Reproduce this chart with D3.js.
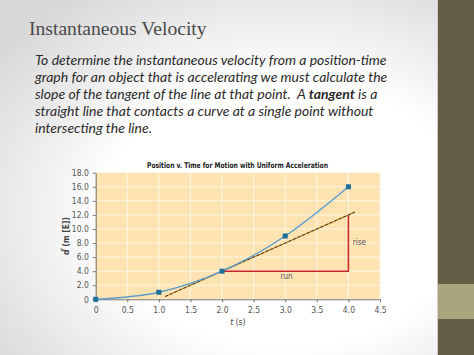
<!DOCTYPE html>
<html><head><meta charset="utf-8">
<script src="https://cdn.jsdelivr.net/npm/d3@7"></script>
<style>
html,body{margin:0;padding:0;background:#fff;}
svg{display:block;}
</style></head>
<body>
<svg id="c" width="474" height="355"></svg>
<script>
// Data
const times = [0, 1, 2, 3, 4];
const positions = [0, 1, 4, 9, 16];
const tangentT = [1.1, 4.1];
const tangentD = [0.4, 12.4];
const riseRunT = [2, 4, 4];
const riseRunD = [4, 4, 12];
const xTicks = [0, 0.5, 1, 1.5, 2, 2.5, 3, 3.5, 4, 4.5];
const yTicks = [0, 2, 4, 6, 8, 10, 12, 14, 16, 18];
const bodyLines = [
  [["To determine the instantaneous velocity from a position-time", false]],
  [["graph for an object that is accelerating we must calculate the", false]],
  [["slope of the tangent of the line at that point.\u00a0 A ", false], ["tangent", true], [" is a", false]],
  [["straight line that contacts a curve at a single point without", false]],
  [["intersecting the line.", false]]
];

const svg = d3.select("#c");
const defs = svg.append("defs");
const rg = defs.append("radialGradient").attr("id","bg").attr("cx","0.6").attr("cy","0.6").attr("r","0.75");
rg.append("stop").attr("offset","0.5").attr("stop-color","#ffffff");
rg.append("stop").attr("offset","1").attr("stop-color","#d8d8d8");
svg.append("rect").attr("width",474).attr("height",355).attr("fill","url(#bg)");

// right sidebar
svg.append("rect").attr("x",438).attr("y",0).attr("width",36).attr("height",355).attr("fill","#655c45");
svg.append("rect").attr("x",438).attr("y",284).attr("width",36).attr("height",35).attr("fill","#aaa57d");
svg.append("rect").attr("x",437).attr("y",0).attr("width",1).attr("height",355).attr("fill","#cfcfcf");

// title
svg.append("text").attr("x",29).attr("y",35)
  .attr("font-family","'Liberation Serif','DejaVu Serif',serif")
  .attr("font-size",19.6).attr("fill","#4a4a4a").text("Instantaneous Velocity");

// body text
const bodyY = [65, 82, 99, 116, 133];
bodyLines.forEach((parts, i) => {
  const t = svg.append("text").attr("x",35).attr("y",bodyY[i])
    .attr("font-family","Lato,'Open Sans',sans-serif").attr("font-style","italic")
    .attr("font-size",14).attr("fill","#2b2b2b");
  parts.forEach(p => {
    t.append("tspan").attr("font-weight", p[1] ? "bold" : "normal").text(p[0]);
  });
});

// chart
const x = d3.scaleLinear().domain([0, 4.5]).range([95.7, 380]);
const y = d3.scaleLinear().domain([0, 18]).range([299.3, 172.7]);

svg.append("rect").attr("x",x(0)).attr("y",y(18)).attr("width",x(4.5)-x(0)).attr("height",y(0)-y(18)).attr("fill","#fde3b2");

const g = svg.append("g");
g.selectAll("line.vg").data(xTicks.slice(1)).join("line")
  .attr("x1",d=>x(d)).attr("x2",d=>x(d)).attr("y1",y(0)).attr("y2",y(18))
  .attr("stroke","#fff6e4").attr("stroke-width",1);
g.selectAll("line.hg").data(yTicks.slice(1)).join("line")
  .attr("y1",d=>y(d)).attr("y2",d=>y(d)).attr("x1",x(0)).attr("x2",x(4.5))
  .attr("stroke","#fff6e4").attr("stroke-width",1);

const fmt = d => d === 0 ? "0" : d3.format(".1f")(d);
const tickFont = "'Liberation Sans Narrow','DejaVu Sans Condensed',Arial,sans-serif";

const xAxis = svg.append("g").attr("transform",`translate(0,${y(0)})`)
  .call(d3.axisBottom(x).tickValues(xTicks).tickFormat(fmt).tickSize(3).tickSizeOuter(0));
const yAxis = svg.append("g").attr("transform",`translate(${x(0)},0)`)
  .call(d3.axisLeft(y).tickValues(yTicks).tickFormat(fmt).tickSize(3).tickSizeOuter(0));
[xAxis, yAxis].forEach(a => {
  a.selectAll("path").attr("stroke","#555").attr("stroke-width",0.8);
  a.selectAll("line").attr("stroke","#555").attr("stroke-width",0.8);
  a.selectAll("text").attr("font-family",tickFont).attr("font-size",8.5).attr("fill","#555");
});
xAxis.selectAll("text").attr("dy","0.95em");
yAxis.selectAll("text").attr("dx","-0.1em");

// axis labels
svg.append("text").attr("x",(x(0)+x(4.5))/2).attr("y",325).attr("text-anchor","middle")
  .attr("font-family",tickFont).attr("font-size",8.5).attr("fill","#444")
  .html('<tspan font-style="italic">t</tspan> (s)');
svg.append("text").attr("transform",`translate(69,${(y(0)+y(18))/2}) rotate(-90)`).attr("text-anchor","middle")
  .attr("font-family",tickFont).attr("font-size",8.5).attr("fill","#444").attr("font-weight","bold")
  .html('<tspan font-style="italic">d⃗</tspan> (m [E])');

// chart title
svg.append("text").attr("x",147).attr("y",168)
  .attr("textLength",181).attr("lengthAdjust","spacingAndGlyphs")
  .attr("font-family",tickFont).attr("font-size",7.8).attr("font-weight","bold").attr("fill","#222")
  .text("Position v. Time for Motion with Uniform Acceleration");

// rise/run
const rr = riseRunT.map((t,i)=>[t, riseRunD[i]]);
svg.append("path").attr("d", d3.line().x(d=>x(d[0])).y(d=>y(d[1]))(rr))
  .attr("fill","none").attr("stroke","#c8262b").attr("stroke-width",1.5);
svg.append("text").attr("x",x(3.02)).attr("y",y(2.9)).attr("text-anchor","middle")
  .attr("font-family",tickFont).attr("font-size",8).attr("fill","#555").text("run");
svg.append("text").attr("x",x(4.07)).attr("y",y(7.7)).attr("text-anchor","start")
  .attr("font-family",tickFont).attr("font-size",8).attr("fill","#555").text("rise");

// tangent
const tg = tangentT.map((t,i)=>[t, tangentD[i]]);
svg.append("path").attr("d", d3.line().x(d=>x(d[0])).y(d=>y(d[1]))(tg))
  .attr("fill","none").attr("stroke","#c48a2a").attr("stroke-width",1.2);
svg.append("path").attr("d", d3.line().x(d=>x(d[0])).y(d=>y(d[1]))(tg))
  .attr("fill","none").attr("stroke","#2a2a2a").attr("stroke-width",0.9).attr("stroke-dasharray","3,2");

// curve
const pts = times.map((t,i)=>[t, positions[i]]);
svg.append("path").attr("d", d3.line().x(d=>x(d[0])).y(d=>y(d[1])).curve(d3.curveMonotoneX)(pts))
  .attr("fill","none").attr("stroke","#5b9ccc").attr("stroke-width",1.4);
svg.selectAll("rect.pt").data(pts).join("rect")
  .attr("x",d=>x(d[0])-2.5).attr("y",d=>y(d[1])-2.5).attr("width",5).attr("height",5)
  .attr("fill","#1f6e98");
</script>
</body></html>
